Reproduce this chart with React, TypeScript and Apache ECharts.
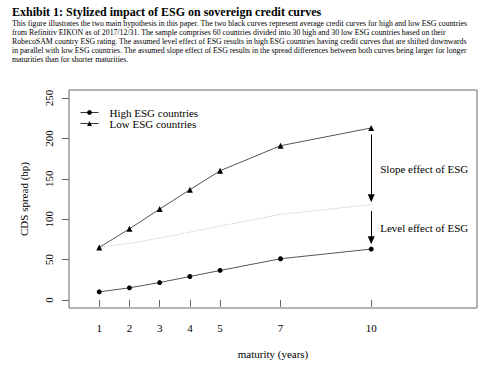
import React, { useEffect, useRef } from "react";
import * as echarts from "echarts";

const maturities = [1, 2, 3, 4, 5, 7, 10];
const highESG = [10, 15, 21.5, 29, 36.5, 51, 63];
const lowESG = [65, 88, 112.5, 136.5, 160, 191, 213];
const shiftedHigh = [65, 70, 76.5, 84, 91.5, 106, 118];
const yTicks = [0, 50, 100, 150, 200, 250];
const xTicks = [1, 2, 3, 4, 5, 7, 10];
const slopeArrow = [205, 126];
const levelArrow = [110, 74];
const slopeLabelY = 162.5;
const levelLabelY = 89;

const titleText = "Exhibit 1: Stylized impact of ESG on sovereign credit curves";
const descLines = [
  "This figure illustrates the two main hypothesis in this paper. The two black curves represent average credit curves for high and low ESG countries",
  "from Refinitiv EIKON as of 2017/12/31. The sample comprises 60 countries divided into 30 high and 30 low ESG countries based on their",
  "RobecoSAM country ESG rating. The assumed level effect of ESG results in high ESG countries having credit curves that are shifted downwards",
  "in parallel with low ESG countries. The assumed slope effect of ESG results in the spread differences between both curves being larger for longer",
  "maturities than for shorter maturities.",
];

const FONT = "Liberation Serif";

export default function App() {
  const ref = useRef<HTMLDivElement>(null);
  useEffect(() => {
    if (!ref.current) return;
    const chart = echarts.init(ref.current, undefined, { renderer: "svg" });
    const pairs = (ys: number[]) => maturities.map((m, i) => [m, ys[i]]);
    const option: any = {
      animation: false,
      backgroundColor: "#fff",
      title: {
        text: titleText,
        left: 12,
        top: 6,
        padding: 0,
        textStyle: { fontFamily: FONT, fontSize: 12, fontWeight: "bold", color: "#000" },
      },
      graphic: descLines.map((t, i) => ({
        type: "text",
        left: 12,
        top: 19.5 + i * 9,
        style: { text: t, fontFamily: FONT, fontSize: 7.8, fill: "#000" },
      })),
      legend: {
        left: 80,
        top: 107,
        orient: "vertical",
        itemWidth: 18,
        itemHeight: 6,
        itemGap: 0,
        padding: 0,
        lineStyle: { width: 1, color: "#333" },
        data: ["High ESG countries", "Low ESG countries"],
        textStyle: { fontFamily: FONT, fontSize: 11, color: "#000", padding: [0, 0, 0, 6] },
      },
      grid: {
        left: 69,
        right: 23,
        top: 90,
        bottom: 61,
        show: true,
        borderColor: "#666",
        borderWidth: 1,
      },
      xAxis: {
        type: "value",
        min: 0,
        max: 13.5,
        name: "maturity (years)",
        nameLocation: "middle",
        nameGap: 40,
        nameTextStyle: { fontFamily: FONT, fontSize: 11, color: "#000" },
        axisLine: { show: false },
        axisTick: { show: true, inside: false, length: 7, customValues: xTicks, lineStyle: { color: "#666" } },
        axisLabel: { customValues: xTicks, margin: 14, fontFamily: FONT, fontSize: 11, color: "#000" },
        splitLine: { show: false },
      },
      yAxis: {
        type: "value",
        min: -10,
        max: 260,
        name: "CDS spread (bp)",
        nameLocation: "middle",
        nameGap: 40,
        nameTextStyle: { fontFamily: FONT, fontSize: 11, color: "#000" },
        axisLine: { show: false },
        axisTick: { show: true, inside: false, length: 7, customValues: yTicks, lineStyle: { color: "#666" } },
        axisLabel: { customValues: yTicks, rotate: 90, margin: 15, fontFamily: FONT, fontSize: 11, color: "#000" },
        splitLine: { show: false },
      },
      series: [
        {
          name: "shifted",
          type: "line",
          data: pairs(shiftedHigh),
          symbol: "none",
          lineStyle: { color: "#bbb", width: 1, type: [1, 1.5] },
          silent: true,
          z: 1,
          markLine: {
            silent: true,
            symbol: ["none", "triangle"],
            symbolSize: [7, 8],
            label: { show: false },
            lineStyle: { color: "#000", width: 1, type: "solid" },
            data: [
              [{ coord: [10, slopeArrow[0]] }, { coord: [10, slopeArrow[1]] }],
              [{ coord: [10, levelArrow[0]] }, { coord: [10, levelArrow[1]] }],
            ],
          },
          markPoint: {
            silent: true,
            symbol: "circle",
            symbolSize: 0,
            itemStyle: { color: "transparent" },
            label: {
              show: true,
              position: "right",
              distance: 9,
              fontFamily: FONT,
              fontSize: 11,
              color: "#000",
            },
            data: [
              { coord: [10, slopeLabelY], label: { formatter: "Slope effect of ESG" } },
              { coord: [10, levelLabelY], label: { formatter: "Level effect of ESG" } },
            ],
          },
        },
        {
          name: "High ESG countries",
          type: "line",
          data: pairs(highESG),
          symbol: "circle",
          symbolSize: 5,
          itemStyle: { color: "#000" },
          lineStyle: { color: "#555", width: 1 },
          z: 3,
        },
        {
          name: "Low ESG countries",
          type: "line",
          data: pairs(lowESG),
          symbol: "triangle",
          symbolSize: 6,
          itemStyle: { color: "#000" },
          lineStyle: { color: "#555", width: 1 },
          z: 3,
        },
      ],
    };
    chart.setOption(option);
    return () => chart.dispose();
  }, []);
  return (
    <div
      ref={ref}
      style={{ position: "fixed", left: 0, top: 0, width: 500, height: 369 }}
    />
  );
}
